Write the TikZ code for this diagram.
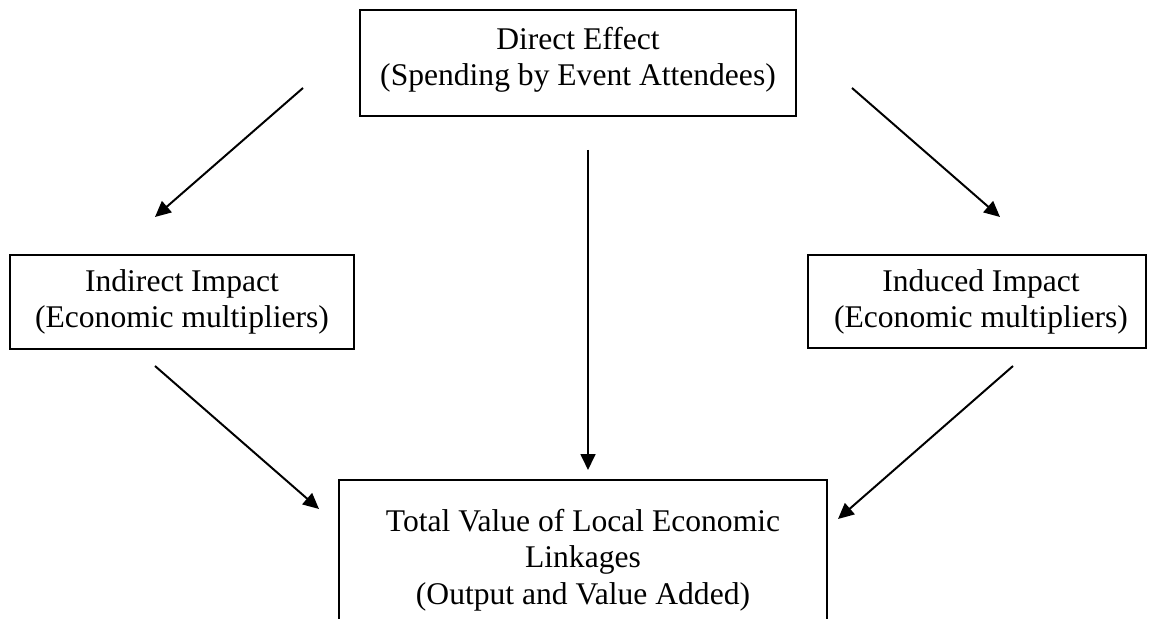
\documentclass[tikz,border=0pt]{standalone}
\usepackage{fontspec}
\setmainfont{Liberation Serif}
\usetikzlibrary{arrows.meta}
\begin{document}
\begin{tikzpicture}[x=0.38pt,y=-0.38pt,
  boxnode/.style={draw=black, line width=0.6pt, inner sep=0pt},
  txt/.style={align=center, font=\fontsize{12}{13.8}\selectfont, inner sep=0pt},
  arr/.style={line width=0.75pt, -{Triangle[length=6pt,width=5.6pt]}}]
\useasboundingbox (0,0) rectangle (1151,619);
% boxes
\node[boxnode, minimum width=436*0.38pt, minimum height=106*0.38pt] (direct) at (578,63) {};
\node[txt] (directT) at (578,60) {Direct Effect\\(Spending by Event Attendees)};
\node[boxnode, minimum width=344*0.38pt, minimum height=94*0.38pt] (indirect) at (182,302) {};
\node[txt] (indirectT) at (182,302) {Indirect Impact\\(Economic multipliers)};
\node[boxnode, minimum width=338*0.38pt, minimum height=93*0.38pt] (induced) at (977,301.5) {};
\node[txt] (inducedT) at (981,302) {Induced Impact\\(Economic multipliers)};
\coordinate (tbl) at (339,640);
\coordinate (ttl) at (339,480);
\coordinate (ttr) at (827,480);
\coordinate (tbr) at (827,640);
\draw[line width=0.6pt] (tbl) -- (ttl) -- (ttr) -- (tbr);
\node[txt] (totalT) at (583,560) {Total Value of Local Economic\\Linkages\\(Output and Value Added)};
% arrows
\coordinate (a1s) at (303,88);  \coordinate (a1e) at (155,217);
\coordinate (a2s) at (852,88);  \coordinate (a2e) at (1000,217);
\coordinate (a3s) at (588,150); \coordinate (a3e) at (588,470);
\coordinate (a4s) at (155,366); \coordinate (a4e) at (319,509);
\coordinate (a5s) at (1013,366); \coordinate (a5e) at (838,519);
\draw[arr] (a1s) -- (a1e);
\draw[arr] (a2s) -- (a2e);
\draw[arr] (a3s) -- (a3e);
\draw[arr] (a4s) -- (a4e);
\draw[arr] (a5s) -- (a5e);
\end{tikzpicture}
\end{document}
